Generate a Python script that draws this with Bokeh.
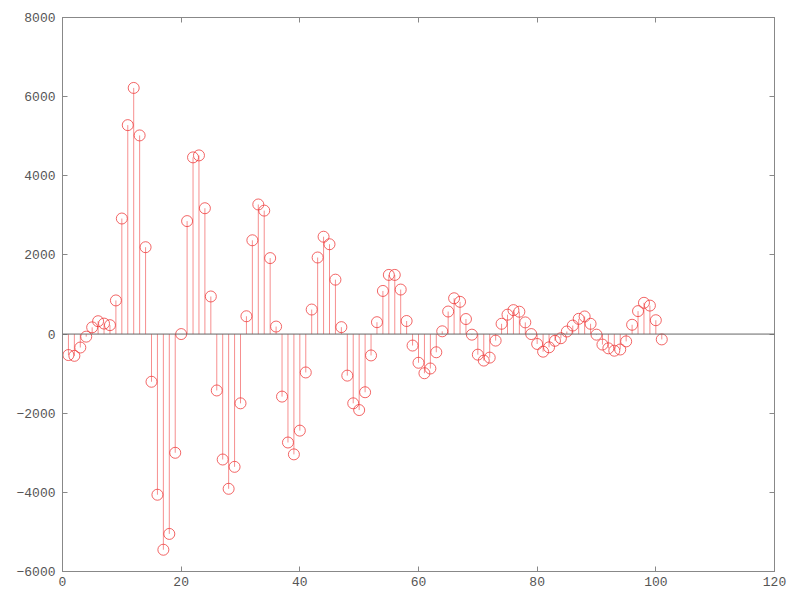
from bokeh.plotting import figure
from bokeh.models import ColumnDataSource, FixedTicker, LinearAxis, Range1d, Span, CustomJSTickFormatter
from bokeh.embed import file_html
from bokeh.resources import INLINE

xs = list(range(1, 102))
values = [
    -530, -550, -340, -65, 170, 325, 265, 225, 850, 2920,
    5280, 6220, 5020, 2195, -1205, -4060, -5450, -5050, -3000, 0,
    2855, 4465, 4515, 3180, 950, -1425, -3170, -3910, -3355, -1750,
    450, 2370, 3275, 3120, 1920, 190, -1580, -2740, -3040, -2440,
    -970, 620, 1935, 2460, 2270, 1375, 175, -1050, -1750, -1920,
    -1470, -540, 300, 1090, 1495, 1495, 1125, 330, -290, -725,
    -990, -870, -460, 70, 570, 905, 815, 380, -15, -520,
    -670, -595, -165, 260, 490, 605, 565, 295, 0, -250,
    -445, -335, -170, -105, 65, 215, 385, 445, 260, -15,
    -265, -360, -420, -390, -185, 235, 580, 790, 720, 350,
    -135,
]
baseline = [0] * len(xs)
x_ticks = [0, 20, 40, 60, 80, 100, 120]
y_ticks = [-6000, -4000, -2000, 0, 2000, 4000, 6000, 8000]

src = ColumnDataSource(dict(x=xs, y=values, y0=baseline))

p = figure(width=790, height=592, output_backend="svg", toolbar_location=None,
           x_range=Range1d(0, 120), y_range=Range1d(-6000, 8000))
p.min_border_left = 62
p.min_border_right = 16
p.min_border_top = 17
p.min_border_bottom = 21
p.grid.visible = False
p.outline_line_color = "#888888"
p.background_fill_color = "white"
p.border_fill_color = "white"

stem_color = "#ee3333"
p.add_layout(Span(location=0, dimension="width", line_color="#666666", line_width=1))
p.segment(x0="x", y0="y0", x1="x", y1="y", source=src, line_color=stem_color,
          line_alpha=0.55, line_width=1)
p.scatter(x="x", y="y", source=src, marker="circle", size=11, fill_color=None,
          line_color=stem_color, line_alpha=0.75, line_width=1)

font = "Liberation Mono"

def style(ax, ticks, labels=True):
    ax.ticker = FixedTicker(ticks=ticks)
    ax.minor_tick_line_color = None
    ax.major_tick_in = 5
    ax.major_tick_out = 0
    ax.axis_line_color = "#888888"
    ax.major_tick_line_color = "#888888"
    ax.major_label_text_font = font
    ax.major_label_text_color = "#555555"
    ax.major_label_text_font_size = "13px"
    if labels:
        ax.major_label_standoff = 7
    else:
        ax.formatter = CustomJSTickFormatter(code="return ''")
        ax.major_label_standoff = 0

style(p.xaxis[0], x_ticks)
style(p.yaxis[0], y_ticks)
p.xaxis[0].major_label_standoff = 5

top = LinearAxis()
style(top, x_ticks, labels=False)
p.add_layout(top, "above")
right = LinearAxis()
style(right, y_ticks, labels=False)
p.add_layout(right, "right")

open("out.html", "w").write(file_html(p, INLINE))
